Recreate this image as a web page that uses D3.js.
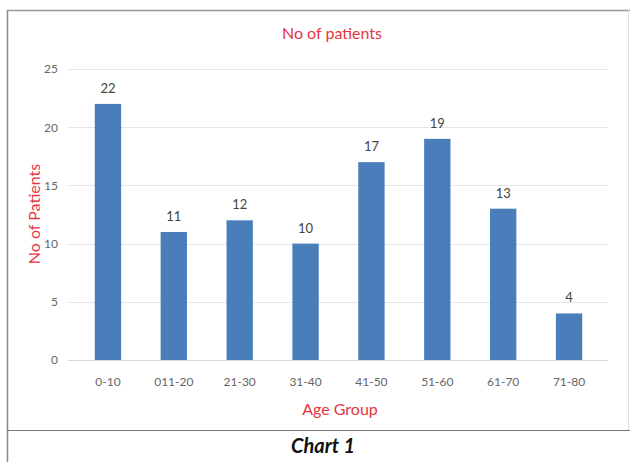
<!DOCTYPE html>
<html><head><meta charset="utf-8">
<script src="https://cdn.jsdelivr.net/npm/d3@7"></script>
<style>body{margin:0;background:#fff}</style>
</head><body>
<svg id="c" width="630" height="462"></svg>
<script>
const categories = ["0-10","011-20","21-30","31-40","41-50","51-60","61-70","71-80"];
const patients = [22,11,12,10,17,19,13,4];
const yTicks = [0,5,10,15,20,25];

const svg = d3.select("#c");
const font = "Lato, 'Open Sans', sans-serif";
const red = "#e8353f";

// frame
svg.append("line").attr("x1",7.5).attr("x2",7.5).attr("y1",10).attr("y2",462).attr("stroke","#888").attr("stroke-width",1.5);
svg.append("line").attr("x1",7).attr("x2",630).attr("y1",10.5).attr("y2",10.5).attr("stroke","#999").attr("stroke-width",1.5);
svg.append("line").attr("x1",628.5).attr("x2",628.5).attr("y1",10).attr("y2",430).attr("stroke","#ddd");
svg.append("line").attr("x1",7).attr("x2",630).attr("y1",430.5).attr("y2",430.5).attr("stroke","#777").attr("stroke-width",1.2);

const x = d3.scaleBand().domain(categories).range([75,602]).paddingInner(0.6).paddingOuter(0.3);
const y = d3.scaleLinear().domain([0,25]).range([360,69]);

// gridlines
svg.append("g").selectAll("line").data(yTicks).join("line")
  .attr("x1",68).attr("x2",608).attr("y1",d=>Math.round(y(d))+0.5).attr("y2",d=>Math.round(y(d))+0.5)
  .attr("stroke",d=>d===0?"#d9d9d9":"#e6e6e6");

// y axis labels
const yAxis = d3.axisLeft(y).tickValues(yTicks).tickSize(0).tickPadding(0);
const gy = svg.append("g").attr("transform","translate(58,0)").call(yAxis);
gy.select(".domain").remove();
gy.selectAll("text").attr("font-family",font).attr("font-size",12).attr("fill","#666");

// x axis labels
const xAxis = d3.axisBottom(x).tickSize(0).tickPadding(0);
const gx = svg.append("g").attr("transform","translate(0,377)").call(xAxis);
gx.select(".domain").remove();
gx.selectAll("text").attr("font-family",font).attr("font-size",12).attr("fill","#666");

// bars
svg.append("g").selectAll("rect").data(patients).join("rect")
  .attr("x",(d,i)=>x(categories[i])).attr("width",x.bandwidth())
  .attr("y",d=>y(d)).attr("height",d=>y(0)-y(d))
  .attr("fill","#4a7ebb");

// data labels
svg.append("g").selectAll("text").data(patients).join("text")
  .attr("x",(d,i)=>x(categories[i])+x.bandwidth()/2).attr("y",d=>y(d)-11)
  .attr("text-anchor","middle").attr("font-family",font).attr("font-size",13).attr("fill","#444")
  .text(d=>d);

// titles
svg.append("text").attr("x",332).attr("y",39).attr("text-anchor","middle")
  .attr("font-family",font).attr("font-size",16).attr("fill",red).text("No of patients");
svg.append("text").attr("x",340).attr("y",415).attr("text-anchor","middle")
  .attr("font-family",font).attr("font-size",16).attr("fill",red).text("Age Group");
svg.append("text").attr("transform","translate(40,214) rotate(-90)").attr("text-anchor","middle")
  .attr("font-family",font).attr("font-size",16).attr("fill",red).text("No of Patients");
svg.append("text").attr("x",323).attr("y",453).attr("text-anchor","middle")
  .attr("font-family",font).attr("font-size",20).attr("font-weight","bold").attr("font-style","italic")
  .attr("fill","#111").text("Chart 1");
</script>
</body></html>
